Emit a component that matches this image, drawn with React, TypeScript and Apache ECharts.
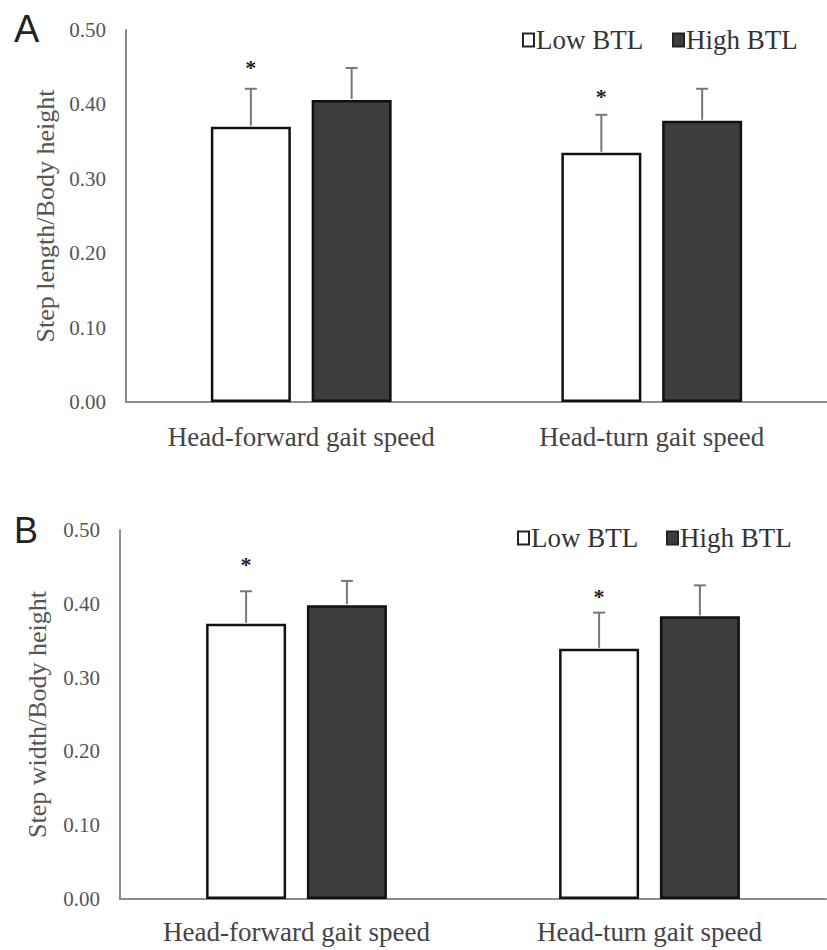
import React, { useEffect, useRef } from "react";
import * as echarts from "echarts";

const categories = ["Head-forward gait speed", "Head-turn gait speed"];
const seriesNames = ["Low BTL", "High BTL"];
const yTicks = [0, 0.1, 0.2, 0.3, 0.4, 0.5];

// Panel A: Step length / Body height
const lengthLow = [0.370, 0.335];
const lengthHigh = [0.406, 0.378];
const lengthLowSD = [0.051, 0.051];
const lengthHighSD = [0.043, 0.043];
const lengthStar = [0.45, 0.41];

// Panel B: Step width / Body height
const widthLow = [0.373, 0.339];
const widthHigh = [0.398, 0.383];
const widthLowSD = [0.044, 0.049];
const widthHighSD = [0.033, 0.042];
const widthStar = [0.453, 0.41];

const BAR_W = 80;
const GAP_PCT = 26;
const OFFSET = (BAR_W + (BAR_W * GAP_PCT) / 100) / 2;
const SERIF = "Liberation Serif";
const LOW_FILL = "#ffffff";
const HIGH_FILL = "#3d3d3d";

function errData(low: number[], lowSD: number[], high: number[], highSD: number[]) {
  const d: number[][] = [];
  low.forEach((v, i) => d.push([i, v, v + lowSD[i], -1]));
  high.forEach((v, i) => d.push([i, v, v + highSD[i], 1]));
  return d;
}

function starData(stars: number[]) {
  return stars.map((v, i) => [i, v, -1]);
}

const errRender = (params: any, api: any) => {
  const x = api.value(0);
  const mean = api.value(1);
  const hi = api.value(2);
  const side = api.value(3);
  const p0 = api.coord([x, mean]);
  const p1 = api.coord([x, hi]);
  const cx = p0[0] + side * OFFSET;
  const style = { stroke: "#777", lineWidth: 2 };
  return {
    type: "group",
    children: [
      { type: "line", shape: { x1: cx, y1: p0[1] - 1, x2: cx, y2: p1[1] }, style },
      { type: "line", shape: { x1: cx - 6, y1: p1[1], x2: cx + 6, y2: p1[1] }, style },
    ],
  };
};

const starRender = (params: any, api: any) => {
  const x = api.value(0);
  const y = api.value(1);
  const side = api.value(2);
  const p = api.coord([x, y]);
  return {
    type: "text",
    x: p[0] + side * OFFSET,
    y: p[1],
    style: {
      text: "*",
      fontSize: 22,
      fontWeight: "bold",
      fontFamily: SERIF,
      fill: "#222",
      align: "center",
      verticalAlign: "middle",
    },
  };
};

function legendGraphic(x0: number, x1: number, cy: number) {
  const items: any[] = [];
  [x0, x1].forEach((x, i) => {
    items.push({
      type: "rect",
      shape: { x, y: cy - 6.5, width: 11, height: 13 },
      style: { fill: i === 0 ? LOW_FILL : HIGH_FILL, stroke: "#222", lineWidth: 2 },
    });
    items.push({
      type: "text",
      x: x + 13,
      y: cy,
      style: {
        text: seriesNames[i],
        fontFamily: SERIF,
        fontSize: 27,
        fill: "#333",
        verticalAlign: "middle",
        align: "left",
      },
    });
  });
  return items;
}

export default function App() {
  const ref = useRef<HTMLDivElement>(null);

  useEffect(() => {
    if (!ref.current) return;
    const chart = echarts.init(ref.current, undefined, { renderer: "svg" });

    const axisLineStyle = { color: "#8c8c8c", width: 2 };
    const mkX = (gridIndex: number, margin: number) => ({
      type: "category",
      gridIndex,
      data: categories,
      axisLine: { show: true, lineStyle: axisLineStyle },
      axisTick: { show: false },
      axisLabel: { fontFamily: SERIF, fontSize: 27, color: "#444", margin },
      splitLine: { show: false },
    });
    const mkY = (gridIndex: number, name: string, nameGap: number) => ({
      type: "value",
      gridIndex,
      min: yTicks[0],
      max: yTicks[yTicks.length - 1],
      interval: 0.1,
      name,
      nameLocation: "middle",
      nameRotate: 90,
      nameGap,
      nameTextStyle: { fontFamily: SERIF, fontSize: 26, color: "#555" },
      axisLine: { show: true, lineStyle: axisLineStyle },
      axisTick: { show: false },
      splitLine: { show: false },
      axisLabel: {
        fontFamily: SERIF,
        fontSize: 21,
        color: "#555",
        margin: 20,
        formatter: (v: number) => v.toFixed(2),
      },
    });

    const lowStyle = { color: LOW_FILL, borderColor: "#111", borderWidth: 2.5 };
    const highStyle = { color: HIGH_FILL, borderColor: "#111", borderWidth: 2.5 };

    const mkBars = (idx: number, low: number[], high: number[]) => [
      {
        name: seriesNames[0],
        type: "bar",
        xAxisIndex: idx,
        yAxisIndex: idx,
        data: low,
        barWidth: BAR_W,
        barGap: GAP_PCT + "%",
        itemStyle: lowStyle,
      },
      {
        name: seriesNames[1],
        type: "bar",
        xAxisIndex: idx,
        yAxisIndex: idx,
        data: high,
        barWidth: BAR_W,
        barGap: GAP_PCT + "%",
        itemStyle: highStyle,
      },
    ];

    chart.setOption({
      animation: false,
      backgroundColor: "#ffffff",
      textStyle: { fontFamily: SERIF },
      grid: [
        { left: 126, top: 30, width: 708, height: 372 },
        { left: 120, top: 530, width: 706, height: 369 },
      ],
      xAxis: [mkX(0, 21), mkX(1, 19)],
      yAxis: [mkY(0, "Step length/Body height", 68), mkY(1, "Step width/Body height", 70)],
      graphic: [
        {
          type: "text",
          left: 14,
          top: 10,
          style: { text: "A", fontFamily: "Liberation Sans", fontSize: 38, fill: "#222" },
        },
        {
          type: "text",
          left: 14,
          top: 512,
          style: { text: "B", fontFamily: "Liberation Sans", fontSize: 36, fill: "#222" },
        },
        ...legendGraphic(523, 673, 40),
        ...legendGraphic(518, 667, 538),
      ],
      series: [
        ...mkBars(0, lengthLow, lengthHigh),
        ...mkBars(1, widthLow, widthHigh),
        {
          type: "custom",
          xAxisIndex: 0,
          yAxisIndex: 0,
          data: errData(lengthLow, lengthLowSD, lengthHigh, lengthHighSD),
          renderItem: errRender,
          z: 5,
        },
        {
          type: "custom",
          xAxisIndex: 1,
          yAxisIndex: 1,
          data: errData(widthLow, widthLowSD, widthHigh, widthHighSD),
          renderItem: errRender,
          z: 5,
        },
        {
          type: "custom",
          xAxisIndex: 0,
          yAxisIndex: 0,
          data: starData(lengthStar),
          renderItem: starRender,
          z: 5,
        },
        {
          type: "custom",
          xAxisIndex: 1,
          yAxisIndex: 1,
          data: starData(widthStar),
          renderItem: starRender,
          z: 5,
        },
      ],
    });

    return () => chart.dispose();
  }, []);

  return (
    <div
      ref={ref}
      style={{ position: "absolute", left: 0, top: 0, width: 827, height: 950 }}
    />
  );
}
